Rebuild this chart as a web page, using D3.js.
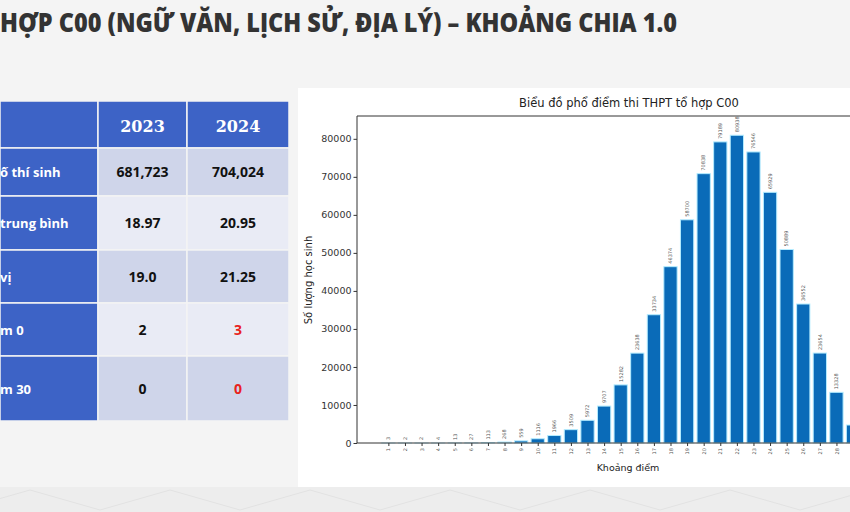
<!DOCTYPE html>
<html>
<head>
<meta charset="utf-8">
<script src="https://cdn.jsdelivr.net/npm/d3@7"></script>
<style>
  body { margin: 0; background: #f4f4f4; }
  svg { display: block; }
</style>
</head>
<body>
<svg></svg>
<script>
// data
const slideTitle = "HỢP C00 (NGỮ VĂN, LỊCH SỬ, ĐỊA LÝ) – KHOẢNG CHIA 1.0";
const tableYears = ["2023", "2024"];
const rowLabels = ["ố thí sinh", "trung bình", "vị", "m 0", "m 30"];
const values2023 = ["681,723", "18.97", "19.0", "2", "0"];
const values2024 = ["704,024", "20.95", "21.25", "3", "0"];
const redCells2024 = [false, false, false, true, true];

const scoreBins = [1, 2, 3, 4, 5, 6, 7, 8, 9, 10, 11, 12, 13, 14, 15,
  16, 17, 18, 19, 20, 21, 22, 23, 24, 25, 26, 27, 28, 29, 30];
const studentCounts = [3, 2, 2, 4, 13, 27, 113, 268, 559, 1116, 1966, 3509, 5972, 9707, 15282,
  23638, 33734, 46374, 58700, 70838, 79189, 80938, 76546, 65929, 50889, 36552, 23654, 13328, 4730, 439];
const yTicks = [0, 10000, 20000, 30000, 40000, 50000, 60000, 70000, 80000];

const svg = d3.select("svg")
    .attr("width", 850)
    .attr("height", 512);

// background
svg.append("rect").attr("width", 850).attr("height", 512).attr("fill", "#f4f4f4");
svg.append("rect").attr("x", 0).attr("y", 487).attr("width", 850).attr("height", 25).attr("fill", "#ededed");
const zig = d3.range(-40, 900, 70).map((x, i) => [x, i % 2 ? 490 : 510]);
svg.append("path")
    .attr("d", d3.line()(zig))
    .attr("fill", "none")
    .attr("stroke", "#e2e2e2")
    .attr("stroke-width", 1);

// slide title
svg.append("text")
    .attr("x", 0)
    .attr("y", 32)
    .attr("textLength", 677)
    .attr("lengthAdjust", "spacingAndGlyphs")
    .style("font-family", "'Open Sans', sans-serif")
    .style("font-weight", 800)
    .style("font-size", "26px")
    .style("fill", "#333")
    .text(slideTitle);

// table
const rowEdges = [101, 148, 196, 250, 303, 356, 421];
const colEdges = [0, 98, 187, 289];
const blue = "#3d63c6";
const cellFills = ["#cfd5ea", "#e9ebf5"];
const table = svg.append("g");

// header row
[0, 1, 2].forEach(c => {
  table.append("rect")
      .attr("x", colEdges[c])
      .attr("y", rowEdges[0])
      .attr("width", colEdges[c + 1] - colEdges[c])
      .attr("height", rowEdges[1] - rowEdges[0])
      .attr("fill", blue)
      .attr("stroke", "#f4f4f4")
      .attr("stroke-width", 1.5);
});
tableYears.forEach((yr, i) => {
  table.append("text")
      .attr("x", (colEdges[i + 1] + colEdges[i + 2]) / 2)
      .attr("y", 132)
      .attr("text-anchor", "middle")
      .style("font-family", "'DejaVu Serif', serif")
      .style("font-weight", 700)
      .style("font-size", "16px")
      .style("fill", "#fff")
      .text(yr);
});

rowLabels.forEach((lab, r) => {
  const y0 = rowEdges[r + 1], y1 = rowEdges[r + 2];
  const cy = (y0 + y1) / 2;
  table.append("rect")
      .attr("x", colEdges[0]).attr("y", y0)
      .attr("width", colEdges[1] - colEdges[0]).attr("height", y1 - y0)
      .attr("fill", blue).attr("stroke", "#f4f4f4").attr("stroke-width", 1.5);
  [1, 2].forEach(c => {
    table.append("rect")
        .attr("x", colEdges[c]).attr("y", y0)
        .attr("width", colEdges[c + 1] - colEdges[c]).attr("height", y1 - y0)
        .attr("fill", cellFills[r % 2]).attr("stroke", "#f4f4f4").attr("stroke-width", 1.5);
  });
  table.append("text")
      .attr("x", 0).attr("y", cy + 5)
      .style("font-family", "'Open Sans', sans-serif")
      .style("font-weight", 700).style("font-size", "13px")
      .style("fill", "#fff")
      .text(lab);
  table.append("text")
      .attr("x", (colEdges[1] + colEdges[2]) / 2).attr("y", cy + 5)
      .attr("text-anchor", "middle")
      .style("font-family", "'Open Sans', sans-serif")
      .style("font-weight", 700).style("font-size", "14px")
      .style("fill", "#111")
      .text(values2023[r]);
  table.append("text")
      .attr("x", (colEdges[2] + colEdges[3]) / 2).attr("y", cy + 5)
      .attr("text-anchor", "middle")
      .style("font-family", "'Open Sans', sans-serif")
      .style("font-weight", 700).style("font-size", "14px")
      .style("fill", redCells2024[r] ? "#e8221c" : "#111")
      .text(values2024[r]);
});

// chart panel
svg.append("rect")
    .attr("x", 298).attr("y", 88)
    .attr("width", 560).attr("height", 399)
    .attr("fill", "#fff");

const x = d3.scaleLinear().domain([-0.89, 31.89]).range([357, 901]);
const y = d3.scaleLinear().domain([0, 86000]).range([443, 116]);
const barW = x(0.8) - x(0);

const chart = svg.append("g");

chart.selectAll("rect.bar")
    .data(studentCounts)
    .enter()
    .append("rect")
    .attr("class", "bar")
    .attr("x", (d, i) => x(scoreBins[i]) - barW / 2)
    .attr("y", d => y(d))
    .attr("width", barW)
    .attr("height", d => y(0) - y(d))
    .attr("fill", "#0a6bb8")
    .attr("stroke", "#b4ecff")
    .attr("stroke-width", 1);

chart.selectAll("text.val")
    .data(studentCounts)
    .enter()
    .append("text")
    .attr("class", "val")
    .attr("transform", (d, i) => `translate(${x(scoreBins[i]) + 1.8},${y(d) - 3}) rotate(-90)`)
    .style("font-family", "'DejaVu Sans', sans-serif")
    .style("font-size", "5px")
    .style("fill", "#555")
    .text(d => d);

// axes
const yAxis = chart.append("g")
    .attr("transform", "translate(357,0)")
    .call(d3.axisLeft(y).tickValues(yTicks).tickSize(3.5).tickPadding(2).tickFormat(d3.format("d")));
yAxis.select(".domain").remove();
yAxis.selectAll("text")
    .style("font-family", "'DejaVu Sans', sans-serif")
    .style("font-size", "9.5px")
    .style("fill", "#333");
yAxis.selectAll("line").attr("stroke", "#333");

const xAxis = chart.append("g")
    .attr("transform", "translate(0,443)")
    .call(d3.axisBottom(x).tickValues(scoreBins).tickSize(3).tickPadding(2).tickFormat(d3.format("d")));
xAxis.select(".domain").attr("stroke", "#333").attr("d", "M357,0H901");
xAxis.selectAll("line").attr("stroke", "#333");
xAxis.selectAll("text")
    .attr("transform", "rotate(-90)")
    .attr("text-anchor", "end")
    .attr("x", -5)
    .attr("y", 0)
    .attr("dy", "0.32em")
    .style("font-family", "'DejaVu Sans', sans-serif")
    .style("font-size", "5px")
    .style("fill", "#555");

// spines
chart.append("path")
    .attr("d", "M357,443V116H901")
    .attr("fill", "none")
    .attr("stroke", "#333")
    .attr("stroke-width", 1);

// labels
chart.append("text")
    .attr("x", 629).attr("y", 107)
    .attr("text-anchor", "middle")
    .style("font-family", "'DejaVu Sans', sans-serif")
    .style("font-size", "11.5px")
    .style("fill", "#222")
    .text("Biểu đồ phổ điểm thi THPT tổ hợp C00");

chart.append("text")
    .attr("x", 628).attr("y", 471)
    .attr("text-anchor", "middle")
    .style("font-family", "'DejaVu Sans', sans-serif")
    .style("font-size", "9.5px")
    .style("fill", "#222")
    .text("Khoảng điểm");

chart.append("text")
    .attr("transform", "translate(312,280) rotate(-90)")
    .attr("text-anchor", "middle")
    .style("font-family", "'DejaVu Sans', sans-serif")
    .style("font-size", "10px")
    .style("fill", "#222")
    .text("Số lượng học sinh");
</script>
</body>
</html>
